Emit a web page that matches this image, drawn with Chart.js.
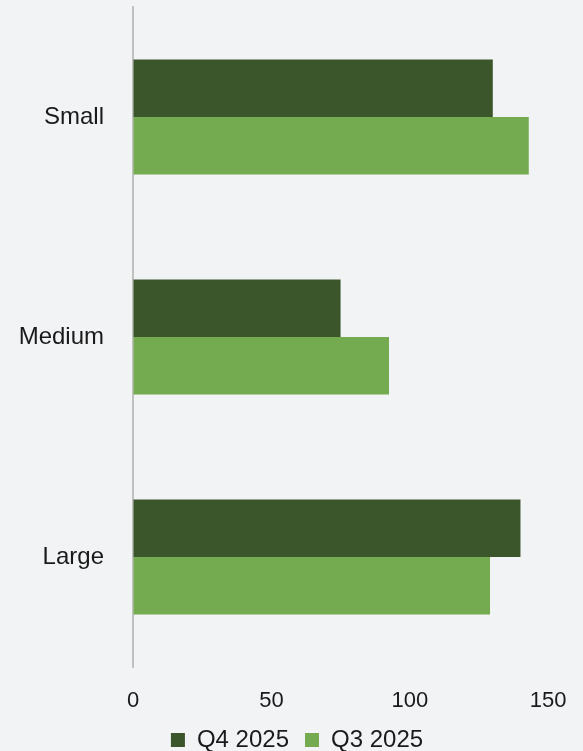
<!DOCTYPE html>
<html>
<head>
<meta charset="utf-8">
<script src="https://cdn.jsdelivr.net/npm/chart.js@4"></script>
<style>
  html, body { margin:0; padding:0; background:#f2f3f5; }
  #wrap { width:583px; height:751px; }
</style>
</head>
<body>
<div id="wrap"><canvas id="c" width="583" height="751"></canvas></div>
<script>
const categories = ["Small", "Medium", "Large"];
const seriesNames = ["Q4 2025", "Q3 2025"];
const q4Values = [130, 75, 140];
const q3Values = [143, 92.5, 129];
const xTicks = [0, 50, 100, 150];

const FONT = "'Liberation Sans', Arial, sans-serif";
const TEXT = "#1a1a1a";

new Chart(document.getElementById('c'), {
  type: 'bar',
  data: {
    labels: categories,
    datasets: [
      { label: seriesNames[0], data: q4Values, backgroundColor: '#3c562b', borderWidth: 0 },
      { label: seriesNames[1], data: q3Values, backgroundColor: '#74aa50', borderWidth: 0 }
    ]
  },
  options: {
    indexAxis: 'y',
    responsive: false,
    animation: false,
    devicePixelRatio: 1,
    layout: { padding: { top: 7, right: 0, left: 11, bottom: -11 } },
    datasets: { bar: { categoryPercentage: 0.523, barPercentage: 1 } },
    scales: {
      x: {
        min: 0, max: 150,
        afterBuildTicks: (s) => { s.ticks = xTicks.map(v => ({ value: v })); },
        grid: { display: true, drawOnChartArea: false, drawTicks: true, tickLength: 4.5, tickColor: 'rgba(0,0,0,0)' },
        border: { display: false },
        ticks: { padding: 16.5, color: TEXT, font: { family: FONT, size: 22 } },
        afterFit: (s) => { s.height = 45; }
      },
      y: {
        grid: { display: true, drawOnChartArea: false, drawTicks: true, tickLength: 29, tickColor: 'rgba(0,0,0,0)' },
        border: { display: true, color: '#c0c0c0', width: 2 },
        ticks: { padding: 0, color: TEXT, font: { family: FONT, size: 24, lineHeight: 0.5 } },
        afterFit: (s) => { s.width = 122; }
      }
    },
    plugins: {
      legend: {
        position: 'bottom',
        labels: {
          boxWidth: 14, boxHeight: 14, padding: 16,
          color: TEXT, font: { family: FONT, size: 24, lineHeight: 1 }
        }
      },
      tooltip: { enabled: false }
    }
  }
});
</script>
</body>
</html>
